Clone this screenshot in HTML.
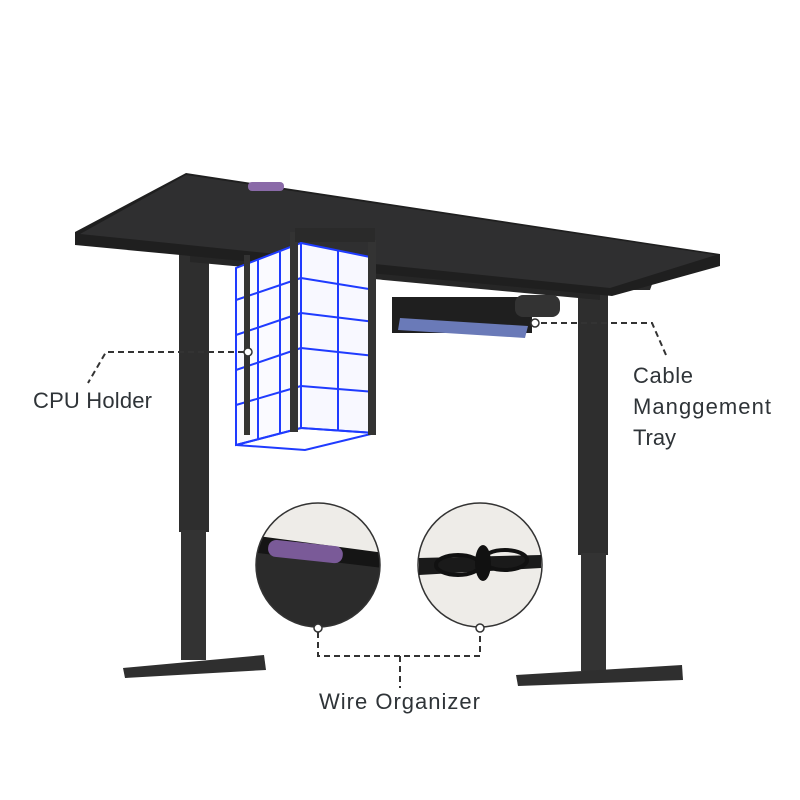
<!DOCTYPE html>
<html><head><style>
html,body{margin:0;padding:0;background:#fff;}
svg{display:block}
text{font-family:"Liberation Sans",sans-serif;fill:#2f3438;}
</style></head><body>
<svg width="800" height="800" viewBox="0 0 800 800" xmlns="http://www.w3.org/2000/svg">
<rect width="800" height="800" fill="#fff"/>
<!-- left leg -->
<rect x="179" y="240" width="30" height="292" fill="#2e2e2e"/>
<rect x="181" y="530" width="25" height="130" fill="#333"/>
<polygon points="123,668 264,655 266,670 125,678" fill="#2f2f2f"/>
<!-- right leg -->
<rect x="578" y="290" width="30" height="265" fill="#2e2e2e"/>
<rect x="581" y="553" width="25" height="118" fill="#333"/>
<polygon points="516,675 682,665 683,680 518,686" fill="#2f2f2f"/>
<!-- crossbar -->
<polygon points="190,228 600,262 600,300 190,262" fill="#262626"/>
<polygon points="140,215 230,200 240,240 150,252" fill="#2a2a2a"/>
<polygon points="600,255 660,262 650,290 598,290" fill="#2a2a2a"/>
<!-- desktop -->
<polygon points="186,173 720,254 720,266 612,296 75,245 75,232" fill="#1f1f1f"/>
<polygon points="186,175 716,255 610,288 80,234" fill="#2f2f30"/>
<rect x="248" y="182" width="36" height="9" rx="4" fill="#8a6aa8"/>
<!-- tray -->
<rect x="392" y="297" width="140" height="36" fill="#1f1f1f"/>
<polygon points="400,318 528,326 525,338 398,330" fill="#6a7ab8"/>
<rect x="515" y="295" width="45" height="22" rx="8" fill="#333"/>
<!-- CPU holder -->
<g stroke="#1f3bff" stroke-width="2" fill="none">
<polygon points="301,243 375,258 375,433 301,428" fill="#f8f8ff"/>
<polygon points="236,268 301,243 301,428 236,445" fill="#fafaff"/>
<line x1="338" y1="250" x2="338" y2="431"/>
<line x1="258" y1="260" x2="258" y2="440"/>
<line x1="280" y1="252" x2="280" y2="434"/>
<line x1="301" y1="278" x2="375" y2="290"/><line x1="236" y1="300" x2="301" y2="278"/>
<line x1="301" y1="313" x2="375" y2="322"/><line x1="236" y1="335" x2="301" y2="313"/>
<line x1="301" y1="348" x2="375" y2="356"/><line x1="236" y1="370" x2="301" y2="348"/>
<line x1="301" y1="386" x2="375" y2="392"/><line x1="236" y1="405" x2="301" y2="386"/>
<polygon points="236,445 301,428 375,433 305,450"/>
</g>
<rect x="244" y="255" width="6" height="180" fill="#333"/>
<rect x="290" y="232" width="8" height="200" fill="#333"/>
<rect x="368" y="240" width="8" height="195" fill="#333"/>
<rect x="295" y="228" width="80" height="14" fill="#2a2a2a"/>
<!-- circles -->
<defs><clipPath id="c1"><circle cx="318" cy="565" r="62"/></clipPath></defs>
<circle cx="318" cy="565" r="62" fill="#eeece8"/>
<g clip-path="url(#c1)">
<polygon points="250,540 400,560 400,640 250,640" fill="#2b2b2b"/>
<polygon points="250,535 400,555 400,570 250,552" fill="#151515"/>
<rect x="268" y="543" width="75" height="17" rx="8" fill="#7a5a98" transform="rotate(6 305 551)"/>
</g>
<circle cx="318" cy="565" r="62" fill="none" stroke="#333" stroke-width="1.5"/>
<circle cx="480" cy="565" r="62" fill="#eeece8" stroke="#333" stroke-width="1.5"/>
<polygon points="419,558 541,555 541,568 419,575" fill="#1a1a1a"/>
<ellipse cx="458" cy="565" rx="22" ry="10" fill="none" stroke="#111" stroke-width="4"/>
<ellipse cx="505" cy="560" rx="22" ry="10" fill="none" stroke="#111" stroke-width="4"/>
<ellipse cx="483" cy="563" rx="8" ry="18" fill="#111"/>
<!-- leaders -->
<g stroke="#333" stroke-width="2" stroke-dasharray="6,4" fill="none">
<polyline points="244,352 106,352 88,383"/>
<polyline points="531,323 652,323 666,355"/>
<polyline points="318,632 318,656 480,656 480,632"/>
<line x1="400" y1="656" x2="400" y2="688"/>
</g>
<g fill="#fff" stroke="#333" stroke-width="1.5">
<circle cx="248" cy="352" r="4"/><circle cx="535" cy="323" r="4"/>
<circle cx="318" cy="628" r="4"/><circle cx="480" cy="628" r="4"/>
</g>
<text x="33" y="408" font-size="22" textLength="119">CPU Holder</text>
<text x="633" y="383" font-size="22" textLength="60">Cable</text>
<text x="633" y="414" font-size="22" textLength="138">Manggement</text>
<text x="633" y="445" font-size="22" textLength="43">Tray</text>
<text x="319" y="709" font-size="22" textLength="161">Wire Organizer</text>
</svg>
</body></html>
